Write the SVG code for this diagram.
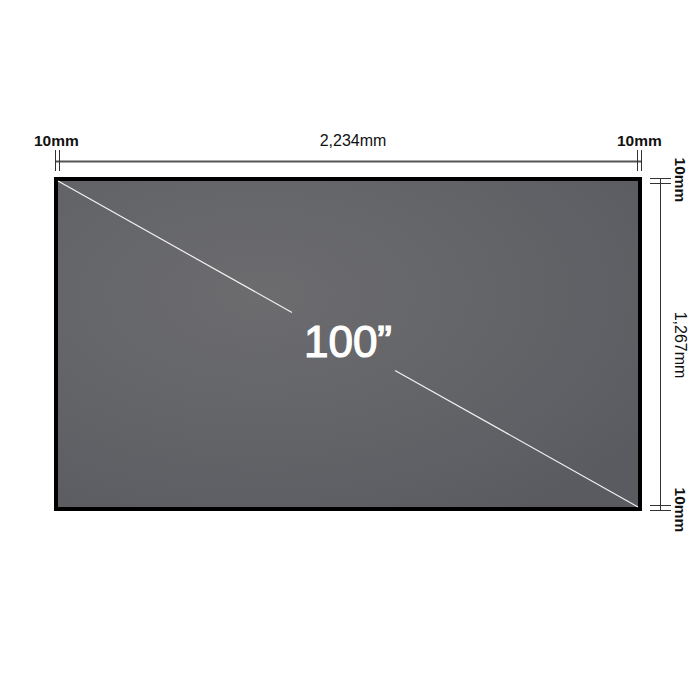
<svg xmlns="http://www.w3.org/2000/svg" width="700" height="700" viewBox="0 0 700 700">
<defs>
<style>
.lbl{font-family:"Liberation Sans",Arial,sans-serif;fill:#111;}
.b{font-weight:bold;font-size:15.5px;}
.n{font-size:16px;}
.dim{stroke:#555;fill:none;}
.tick{stroke:#333;stroke-width:1;fill:none;}
</style>
<radialGradient id="scr" cx="0.35" cy="0.35" r="0.8">
<stop offset="0" stop-color="#6c6c6f"/>
<stop offset="0.6" stop-color="#626367"/>
<stop offset="1" stop-color="#5a5b60"/>
</radialGradient>
</defs>
<rect width="700" height="700" fill="#fff"/>
<g id="screen">
<rect x="56" y="179" width="584" height="330" fill="url(#scr)" stroke="#000" stroke-width="4"/>
<line x1="58" y1="181" x2="292" y2="312.5" stroke="#f2f2f2" stroke-width="1.2"/>
<line x1="395" y1="370.4" x2="638" y2="507" stroke="#f2f2f2" stroke-width="1.2"/>
<text x="348" y="357" text-anchor="middle" font-family="'Liberation Sans',Arial,sans-serif" font-size="44" fill="#fff" stroke="#fff" stroke-width="1.2">100”</text>
</g>
<g id="connectors">
<line class="dim" x1="56" y1="161.5" x2="641" y2="161.5" stroke-width="2"/>
<line class="tick" x1="55.5" y1="150" x2="55.5" y2="171"/>
<line class="tick" x1="59.5" y1="150" x2="59.5" y2="171"/>
<line class="tick" x1="637.5" y1="150" x2="637.5" y2="171"/>
<line class="tick" x1="641.5" y1="150" x2="641.5" y2="171"/>
<line class="tick" x1="660.5" y1="178" x2="660.5" y2="510"/>
<line class="tick" x1="650" y1="178.5" x2="671" y2="178.5"/>
<line class="tick" x1="650" y1="183.5" x2="671" y2="183.5"/>
<line class="tick" x1="650" y1="505.5" x2="671" y2="505.5"/>
<line class="tick" x1="650" y1="510.5" x2="671" y2="510.5"/>
</g>
<g id="labels">
<text class="lbl b" x="34" y="146">10mm</text>
<text class="lbl n" x="353" y="146" text-anchor="middle">2,234mm</text>
<text class="lbl b" x="617" y="146">10mm</text>
<text class="lbl b" transform="translate(675,180) rotate(90)" text-anchor="middle">10mm</text>
<text class="lbl n" transform="translate(675,345) rotate(90)" text-anchor="middle">1,267mm</text>
<text class="lbl b" transform="translate(675,510) rotate(90)" text-anchor="middle">10mm</text>
</g>
</svg>
